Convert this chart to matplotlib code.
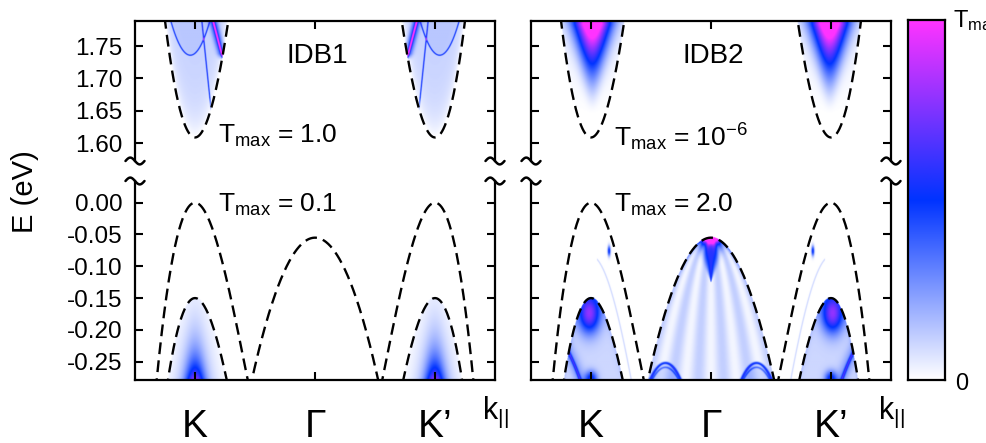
import numpy as np
import matplotlib
matplotlib.use("Agg")
import matplotlib.pyplot as plt
from matplotlib.colors import LinearSegmentedColormap
from matplotlib.lines import Line2D

plt.rcParams["font.family"] = ["Liberation Sans", "DejaVu Sans"]
plt.rcParams["mathtext.fontset"] = "custom"
plt.rcParams["mathtext.rm"] = "Liberation Sans"
plt.rcParams["mathtext.it"] = "Liberation Sans:italic"
plt.rcParams["mathtext.bf"] = "Liberation Sans:bold"
plt.rcParams["lines.scale_dashes"] = False

# ---------------- data ----------------
valley_k = [-1.0, 0.0, 1.0]
valley_labels = ["K", "Γ", "K’"]
k_lim = (-1.5, 1.5)

E_cond_lim = (1.5727, 1.7886)
E_val_lim = (-0.278, 0.0341)
cond_ticks = [1.60, 1.65, 1.70, 1.75]
val_ticks = [0.00, -0.05, -0.10, -0.15, -0.20, -0.25]

# band edges; u = distance from K / K' measured towards Γ
cb_min, cb_curv, cb_warp = 1.609, 2.62, -1.04
vb_top = [0.00, -0.15]
vb_curv = [2.19, 2.21]
vb_warp = [1.70, 1.41]
gamma_top, gamma_curv = -0.055, 0.808

panel_names = ["IDB1", "IDB2"]
tmax_cond = ["1.0", "10$^{\\mathrm{-6}}$"]
tmax_val = ["0.1", "2.0"]
cbar_colors = ["#ffffff", "#0033ff", "#ff33ff"]


# ---------------- band model ----------------
def cond_edge(u):
    return cb_min + cb_curv * u**2 + cb_warp * u**3


def val_edge(u, i):
    return vb_top[i] - vb_curv[i] * u**2 + vb_warp[i] * u**3


def val_slope(u, i):
    return -2 * vb_curv[i] * u + 3 * vb_warp[i] * u**2


def gamma_edge(k):
    return gamma_top - gamma_curv * k**2


def valley_u(k, kv):
    return (k - kv) * (-np.sign(kv))


def ridge(E, Ecurve, slope, width_px, sx, sy):
    """Thin line of given on-screen width along the curve E = Ecurve(k)."""
    d = np.abs(E - Ecurve) * sy / np.sqrt(1.0 + (slope * sy / sx) ** 2)
    return np.exp(-(d / width_px) ** 2)


# ---------------- transmission maps (normalised to T_max) ----------------
def map_idb1_cond(k, E, sx, sy):
    T = np.zeros_like(k)
    for kv in (-1.0, 1.0):
        u = valley_u(k, kv)
        inside = (E >= cond_edge(u)) & (np.abs(u) < 0.7)
        depth = np.clip(E - cond_edge(u), 0, None)
        t = 0.11 * (1 - np.exp(-depth / 0.035))
        Er = 1.736 + 2.0 * (u + 0.04) ** 2
        t = t + 0.03 * (E > Er)
        t = t + 0.45 * ridge(E, Er, 4.0 * (u + 0.04), 0.6, sx, sy)
        El = 1.789 - 1.78 * (u - 0.056)
        fade = np.clip((E - 1.641) / 0.03, 0, 1)
        t = t + 0.5 * fade * ridge(E, El, -1.78, 0.6, sx, sy)
        Es = 1.789 - 0.71 * (u - 0.15)
        fade2 = np.clip((E - 1.728) / 0.01, 0, 1)
        t = t + fade2 * (0.85 * ridge(E, Es, -0.71, 1.0, sx, sy)
                         + 0.35 * ridge(E, Es, -0.71, 4.0, sx, sy))
        T += np.where(inside, t, 0)
    return T


def map_idb1_val(k, E, sx, sy):
    T = np.zeros_like(k)
    h = E - E_val_lim[0]
    for kv in (-1.0, 1.0):
        u = valley_u(k, kv)
        inside = (E <= val_edge(u, 1)) & (np.abs(u) < 0.7)
        t = (0.55 * np.exp(-(u / 0.075) ** 2 - h / 0.035)
             + 0.22 * np.exp(-(u / 0.16) ** 2 - h / 0.07))
        T += np.where(inside, t, 0)
    return T


def map_idb2_cond(k, E, sx, sy):
    T = np.zeros_like(k)
    for kv in (-1.0, 1.0):
        u = valley_u(k, kv)
        inside = (E >= cond_edge(u)) & (np.abs(u) < 0.7)
        rise = np.clip((E - 1.645) / 0.12, 0, 1.15) ** 1.7
        w = 0.03 + 0.8 * np.clip(E - 1.64, 0, None)
        t = rise * np.exp(-((u - 0.01) / w) ** 2)
        t = t + 0.04 * np.clip((E - 1.64) / 0.15, 0, 1)
        T += np.where(inside, t, 0)
    return T


def map_idb2_val(k, E, sx, sy):
    T = np.zeros_like(k)
    bottom = E_val_lim[0]
    for kv in (-1.0, 1.0):
        u = valley_u(k, kv)
        near = np.abs(u) < 0.7
        E1 = val_edge(u, 0)
        E2 = val_edge(u, 1)
        in2 = (E <= E2) & near
        ring = (E <= E1) & (E > E2) & near
        d2 = np.clip(E2 - E, 0, None)
        t = 0.10 + 0.08 * np.exp(-d2 / 0.01)
        t = t + 0.68 * np.exp(-((u + 0.015) / 0.09) ** 2 - ((E + 0.175) / 0.03) ** 2)
        t = t + 0.45 * np.exp(-(u / 0.05) ** 2 - ((E - bottom) / 0.012) ** 2)
        du = u + 0.2
        Ea = -0.232 - 0.35 * du - 0.8 * du**2
        sl = -0.35 - 1.6 * du
        t = t + (du > -0.02) * (0.4 * ridge(E, Ea, sl, 1.5, sx, sy)
                                 + 0.15 * ridge(E, Ea, sl, 6.0, sx, sy))
        r = 0.55 * np.exp(-((u - 0.15) / 0.012) ** 2 - ((E + 0.077) / 0.008) ** 2)
        Ef = E2 + 0.065
        r = r + 0.1 * ((u > 0.05) & (u < 0.35)) * ridge(E, Ef, val_slope(u, 1), 0.7, sx, sy)
        T += np.where(in2, t, 0) + np.where(ring, r, 0)

    Eg = gamma_edge(k)
    inG = E <= Eg
    dg = np.clip(Eg - E, 0, None)
    kedge = np.sqrt(np.clip(gamma_top - E, 1e-6, None) / gamma_curv)
    rr = np.abs(k) / kedge
    t = 0.12 * (0.6 - 0.4 * np.cos(2 * np.pi * 2.5 * rr))
    t = t + 0.4 * np.exp(-dg / 0.006) * np.exp(-(gamma_top - E) / 0.04)
    t = t + 1.0 * np.exp(-(k / 0.05) ** 2 - ((E - gamma_top) / 0.01) ** 2)
    wv = 1.32 * (E + 0.127)
    t = t + np.where(wv > 0, 0.55 * np.exp(-(k / np.clip(wv, 1e-4, None)) ** 2), 0)
    for kc in (-0.38, 0.38):
        Ea = -0.253 - 1.6 * (k - kc) ** 2
        sl = -3.2 * (k - kc)
        t = t + 0.45 * ridge(E, Ea, sl, 1.2, sx, sy) + 0.25 * ridge(E, Ea - 0.007, sl, 1.0, sx, sy)
        t = t + 0.08 * (E < Ea)
    T += np.where(inG, t, 0)
    return T


# ---------------- figure ----------------
W, H, DPI = 987, 443, 100
fig = plt.figure(figsize=(W / DPI, H / DPI), dpi=DPI)
cmap = LinearSegmentedColormap.from_list("tmap", cbar_colors)


def px_box(left, top, right, bottom):
    return [left / W, 1 - bottom / H, (right - left) / W, (bottom - top) / H]


panel_x = [(135, 495), (531, 891)]
up_top, up_bot = 21, 161
lo_top, lo_bot = 181, 379.5
spine_lw = 1.6
tick_kw = dict(direction="in", length=6, width=1.5)
dash_kw = dict(color="black", lw=1.7, dashes=(8.5, 4.5), zorder=3)

maps_cond = [map_idb1_cond, map_idb2_cond]
maps_val = [map_idb1_val, map_idb2_val]


def tilde(xc, yc):
    t = np.linspace(-1, 1, 60)
    xs = (xc + 9.5 * t) / W
    ys = 1 - (yc + 3.4 * np.sin(np.pi * t)) / H
    fig.add_artist(Line2D(xs, ys, transform=fig.transFigure, color="black",
                          lw=1.8, solid_capstyle="round"))


for p, (x0, x1) in enumerate(panel_x):
    ax_up = fig.add_axes(px_box(x0, up_top, x1, up_bot))
    ax_lo = fig.add_axes(px_box(x0, lo_top, x1, lo_bot))
    sx = (x1 - x0) / (k_lim[1] - k_lim[0])

    for ax, lim, fn, nE in ((ax_up, E_cond_lim, maps_cond[p], 320),
                            (ax_lo, E_val_lim, maps_val[p], 460)):
        hpx = (up_bot - up_top) if ax is ax_up else (lo_bot - lo_top)
        sy = hpx / (lim[1] - lim[0])
        kk = np.linspace(k_lim[0], k_lim[1], 900)
        ee = np.linspace(lim[0], lim[1], nE)
        Kg, Eg = np.meshgrid(kk, ee)
        T = np.clip(fn(Kg, Eg, sx, sy), 0, 1)
        ax.imshow(T, extent=[k_lim[0], k_lim[1], lim[0], lim[1]], origin="lower",
                  aspect="auto", cmap=cmap, vmin=0, vmax=1, interpolation="bilinear",
                  zorder=0)
        ax.set_xlim(*k_lim)
        ax.set_ylim(*lim)
        for s in ax.spines.values():
            s.set_linewidth(spine_lw)

    # band edge curves
    for kv in (-1.0, 1.0):
        u = np.linspace(-0.45, 0.45, 300)
        kk = kv - np.sign(kv) * u
        ax_up.plot(kk, cond_edge(u), **dash_kw)
        u = np.linspace(-0.5, 0.65, 300)
        kk = kv - np.sign(kv) * u
        for i in range(2):
            ax_lo.plot(kk, val_edge(u, i), **dash_kw)
    kg = np.linspace(-0.7, 0.7, 300)
    ax_lo.plot(kg, gamma_edge(kg), **dash_kw)

    # axes furniture
    ax_up.spines["bottom"].set_visible(False)
    ax_lo.spines["top"].set_visible(False)
    ax_up.set_xticks(valley_k)
    ax_up.tick_params(axis="x", top=True, bottom=False, labelbottom=False, **tick_kw)
    ax_lo.set_xticks(valley_k, valley_labels)
    ax_lo.tick_params(axis="x", top=False, bottom=True, labelsize=28, pad=21, **tick_kw)
    ax_up.set_yticks(cond_ticks, [f"{v:.2f}" for v in cond_ticks])
    ax_lo.set_yticks(val_ticks, [f"{v:.2f}" for v in val_ticks])
    for ax in (ax_up, ax_lo):
        ax.tick_params(axis="y", left=True, right=True, labelleft=(p == 0),
                       labelsize=17.5, pad=9, **tick_kw)

    # labels inside the panels
    ax_up.text(0.02, 1.7233, panel_names[p], ha="center", va="baseline", fontsize=20)
    ax_up.text(-0.81, 1.60 if p == 0 else 1.5945,
               r"$\mathrm{T_{max}}$ = " + tmax_cond[p], ha="left", va="baseline", fontsize=19)
    ax_lo.text(-0.81, -0.0142, r"$\mathrm{T_{max}}$ = " + tmax_val[p],
               ha="left", va="baseline", fontsize=19)

    # k_parallel label
    fig.text((x0 + 347) / W, 1 - 419 / H, r"k$_{\mathrm{||}}$", ha="left", va="baseline",
             fontsize=22)

    # axis-break marks
    for xs in (x0, x1):
        tilde(xs, up_bot)
        tilde(xs, lo_top)

fig.text(25 / W, 1 - 192 / H, "E (eV)", rotation=90, ha="center", va="center", fontsize=21)

# colour bar
ax_cb = fig.add_axes(px_box(908, 20, 945, 380))
grad = np.linspace(0, 1, 256).reshape(-1, 1)
ax_cb.imshow(grad, extent=[0, 1, 0, 1], origin="lower", aspect="auto", cmap=cmap,
             vmin=0, vmax=1)
ax_cb.set_xticks([])
ax_cb.set_yticks([])
for s in ax_cb.spines.values():
    s.set_linewidth(spine_lw)
ax_cb.text(45 / 37, 1 - 7 / 360, r"$\mathrm{T_{max}}$", transform=ax_cb.transAxes,
           ha="left", va="baseline", fontsize=17)
ax_cb.text(47 / 37, -10 / 360, "0", transform=ax_cb.transAxes,
           ha="left", va="baseline", fontsize=17)

fig.savefig("out.png", dpi=DPI)
